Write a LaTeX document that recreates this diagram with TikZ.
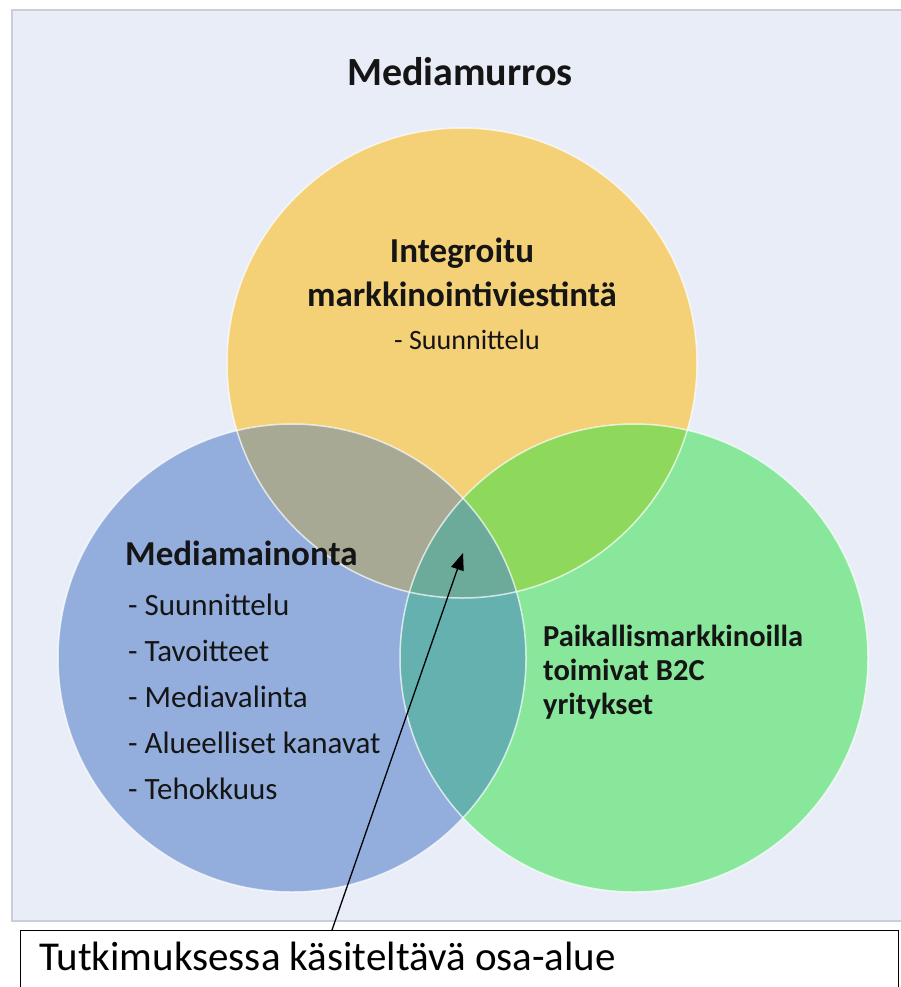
\documentclass[tikz,border=0pt]{standalone}
\usepackage{fontspec}
\setmainfont{Carlito}
\usetikzlibrary{arrows.meta}

% circle colours and their overlaps
\definecolor{panelfill}{HTML}{E8EDF7}
\definecolor{panelline}{HTML}{C9CED9}
\definecolor{cyellow}{HTML}{F4D077}
\definecolor{cblue}{HTML}{93AEDC}
\definecolor{cgreen}{HTML}{88E79B}
\definecolor{cyb}{HTML}{A8A995}
\definecolor{cyg}{HTML}{8ED95B}
\definecolor{cbg}{HTML}{64B1B0}
\definecolor{cybg}{HTML}{6CAA9A}
\definecolor{ink}{HTML}{151515}

\tikzset{
  head/.style={font=\fontsize{35}{42}\selectfont\bfseries, text=ink, inner sep=0pt},
  item/.style={font=\fontsize{31}{37}\selectfont, text=ink, inner sep=0pt, anchor=base west},
  rim/.style={draw=white, draw opacity=0.7, line width=1.5pt},
  small head/.style={head, font=\fontsize{30.5}{36}\selectfont\bfseries, anchor=base west},
}

\begin{document}
\begin{tikzpicture}[x=1pt, y=-1pt]
\useasboundingbox (0,0) rectangle (901,987);

% background panel
\draw[fill=panelfill, draw=panelline, line width=1.8pt] (12,10) rectangle (904,921);

% circle geometry
\def\Ycirc{(462,363) circle[radius=235]}
\def\Bcirc{(292,658) circle[radius=234]}
\def\Gcirc{(634,658) circle[radius=234]}

\fill[cyellow] \Ycirc;
\fill[cblue] \Bcirc;
\fill[cgreen] \Gcirc;
\begin{scope}\clip \Ycirc; \fill[cyb] \Bcirc; \end{scope}
\begin{scope}\clip \Ycirc; \fill[cyg] \Gcirc; \end{scope}
\begin{scope}\clip \Bcirc; \fill[cbg] \Gcirc; \end{scope}
\begin{scope}\clip \Ycirc; \clip \Bcirc; \fill[cybg] \Gcirc; \end{scope}
\draw[rim] \Ycirc;
\draw[rim] \Bcirc;
\draw[rim] \Gcirc;

% title
\node[head, font=\fontsize{40}{48}\selectfont\bfseries, anchor=base] (title) at (460,86) {Mediamurros};

% top circle
\node[head, anchor=base] (imc1) at (462,262) {Integroitu};
\node[head, anchor=base] (imc2) at (462,306) {markkinointiviestintä};
\node[item, font=\fontsize{28}{34}\selectfont, anchor=base] (imc3) at (467,349) {- Suunnittelu};

% left circle
\node[head, anchor=base west] (ma) at (125,565) {Mediamainonta};
\node[item] (ma1) at (128,615) {- Suunnittelu};
\node[item] (ma2) at (128,661) {- Tavoitteet};
\node[item] (ma3) at (128,707) {- Mediavalinta};
\node[item] (ma4) at (128,753) {- Alueelliset kanavat};
\node[item] (ma5) at (128,799) {- Tehokkuus};

% right circle
\node[small head] (pb1) at (543,646) {Paikallismarkkinoilla};
\node[small head] (pb2) at (543,680) {toimivat B2C};
\node[small head] (pb3) at (543,714) {yritykset};

% callout box
\node[draw=black, fill=white, line width=1.4pt, minimum width=878pt, minimum height=90pt,
      anchor=north west, inner sep=0pt] (box) at (20,930) {};
\node[font=\fontsize{41}{49}\selectfont, text=black, anchor=base west, inner sep=0pt] (boxtext) at (39,970)
  {Tutkimuksessa käsiteltävä osa-alue};

% pointer into the common area
\coordinate (foot) at (332,930);
\coordinate (tip) at (463,553);
\draw[line width=1.3pt, -{Triangle[length=17pt, width=13pt]}] (foot) -- (tip);
\end{tikzpicture}
\end{document}
